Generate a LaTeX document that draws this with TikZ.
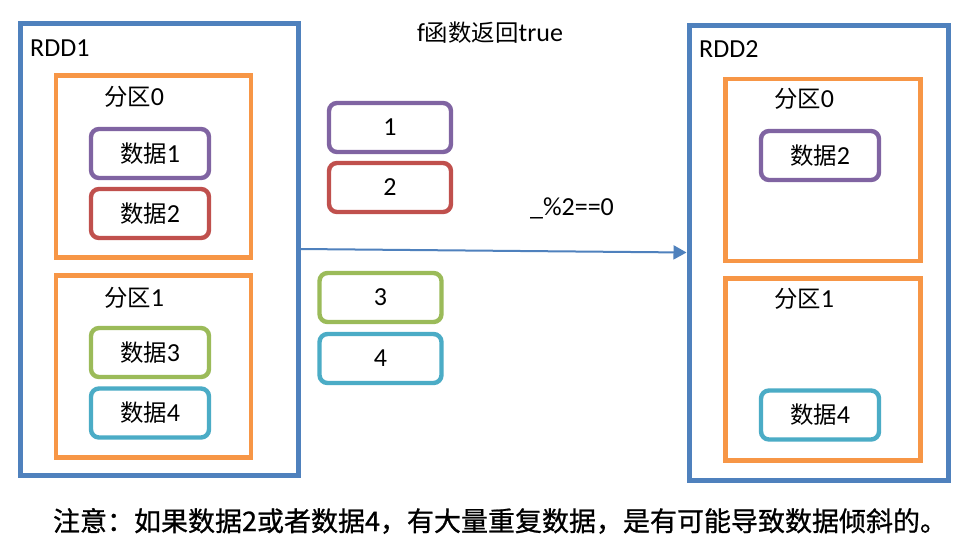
\documentclass[tikz,border=0pt]{standalone}
\usepackage{fontspec}
\setmainfont{Carlito}
\newfontfamily\cjk{Noto Sans CJK SC}[Scale=0.9]
\newfontfamily\cjknote{Noto Sans CJK SC}[FakeBold=0.8]
\usetikzlibrary{arrows.meta}
\definecolor{rddblue}{HTML}{4F81BD}
\definecolor{partorange}{HTML}{F79646}
\definecolor{datapurple}{HTML}{8064A2}
\definecolor{datared}{HTML}{C0504D}
\definecolor{datagreen}{HTML}{9BBB59}
\definecolor{datacyan}{HTML}{4BACC6}
\begin{document}
\begin{tikzpicture}[x=1pt,y=-1pt,
  every node/.style={font=\fontsize{26}{30}\selectfont, text=black},
  rddbox/.style={draw=rddblue, line width=5pt, inner sep=0pt},
  partbox/.style={draw=partorange, line width=4.6pt, inner sep=0pt, minimum width=195pt, minimum height=182pt},
  databox/.style={line width=4.4pt, rounded corners=8pt, inner sep=0pt, minimum width=118pt, minimum height=49pt},
  lbl/.style={inner sep=0pt}
]
\useasboundingbox[fill=white] (0,0) rectangle (971,552);

% RDD1
\node[rddbox, minimum width=278pt, minimum height=452pt] (rdd1) at (159,249) {};
\node[lbl, anchor=base west] (rdd1lbl) at (30,56) {RDD1};
\node[partbox] (p10) at (153.5,166.5) {};
\node[partbox] (p11) at (153.5,366.5) {};
\node[lbl] (p10lbl) at (134,97) {{\cjk 分区}0};
\node[lbl] (p11lbl) at (134,298) {{\cjk 分区}1};
\node[databox, draw=datapurple] (d1) at (150,153.5) {{\cjk 数据}1};
\node[databox, draw=datared] (d2) at (150,213.5) {{\cjk 数据}2};
\node[databox, draw=datagreen] (d3) at (150,352.5) {{\cjk 数据}3};
\node[databox, draw=datacyan] (d4) at (150,413) {{\cjk 数据}4};

% middle
\node[lbl] (title) at (490,33) {f{\cjk 函数返回}true};
\node[databox, draw=datapurple, minimum width=122pt] (b1) at (390,127.5) {1};
\node[databox, draw=datared, minimum width=122pt] (b2) at (390,187.5) {2};
\node[databox, draw=datagreen, minimum width=122pt] (b3) at (380.5,297.5) {3};
\node[databox, draw=datacyan, minimum width=122pt] (b4) at (380.5,358.5) {4};
\node[lbl] (cond) at (572,208) {\_\%2==0};

% RDD2
\node[rddbox, minimum width=259pt, minimum height=455pt] (rdd2) at (818.5,252.5) {};
\node[lbl, anchor=base west] (rdd2lbl) at (699,57) {RDD2};
\node[partbox] (p20) at (823,170) {};
\node[partbox] (p21) at (823,369.5) {};
\node[lbl] (p20lbl) at (804,99) {{\cjk 分区}0};
\node[lbl] (p21lbl) at (804,299) {{\cjk 分区}1};
\node[databox, draw=datapurple] (e2) at (820,155.5) {{\cjk 数据}2};
\node[databox, draw=datacyan] (e4) at (820,415) {{\cjk 数据}4};

% arrow
\draw[draw=rddblue, line width=2pt, -{Triangle[length=13pt,width=14pt]}] (rdd1.east) -- (rdd2.west);

% note
\node[lbl, font=\fontsize{27}{30}\selectfont\cjknote] (note) at (500,521) {注意：如果数据2或者数据4，有大量重复数据，是有可能导致数据倾斜的。};
\end{tikzpicture}
\end{document}
